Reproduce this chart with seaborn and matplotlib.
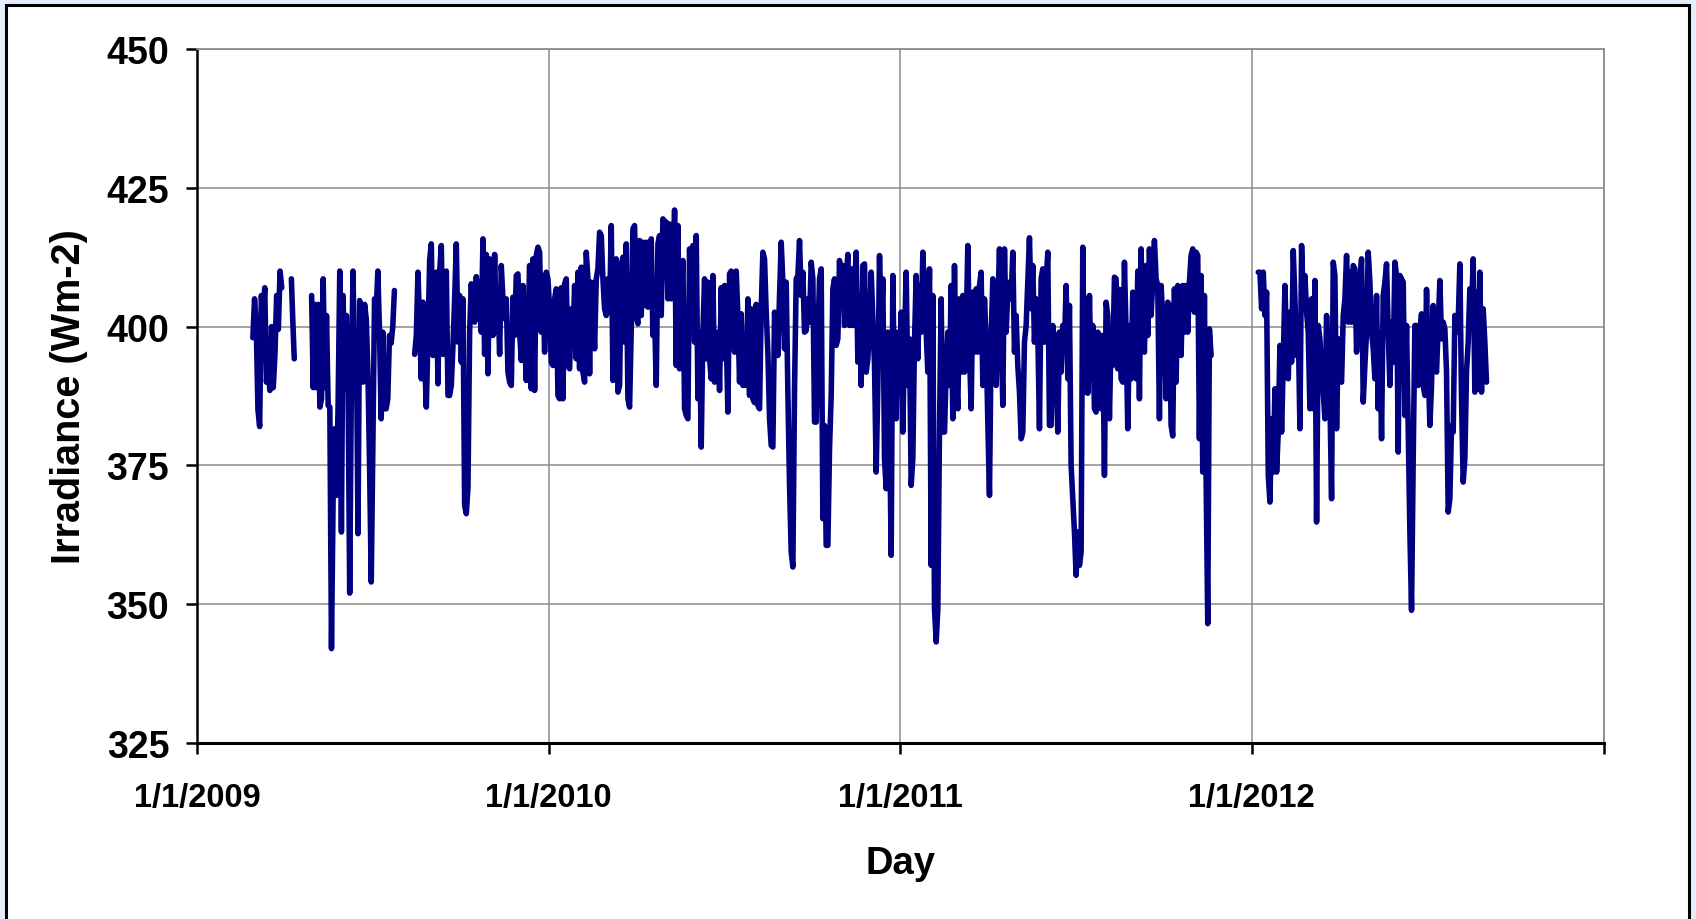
import numpy as np
import pandas as pd
import matplotlib
matplotlib.use("Agg")
import matplotlib.pyplot as plt
from matplotlib.patches import Rectangle
import seaborn as sns

# Daily-mean irradiance (Wm-2), recorded in separate campaigns.
# Each campaign: first day, last day, readings evenly spread between them.
seg_start = ["2009-02-28", "2009-04-09", "2009-04-30", "2009-08-15", "2012-01-08"]
seg_end = ["2009-03-30", "2009-04-12", "2009-07-25", "2011-11-20", "2012-09-01"]

irr_spring_2009 = [398, 405, 400, 385, 382, 405.6, 402, 407, 390, 394, 388.5, 400, 389, 395,
                   405.6, 399.5, 410, 407]

irr_april_2009 = [408.6, 401, 394.2]

irr_summer_2009 = [405.6, 389, 404, 389, 404, 385.5, 387, 408.6, 389, 402, 385.8, 385.5, 342,
                   369.6, 381.6, 369.6, 386, 410, 363, 405.6, 388.8, 402, 390, 352, 389.4, 410,
                   389.4, 399, 362.7, 404.7, 401, 390, 404, 401.4, 391.8, 375, 354, 379, 405,
                   403, 410, 399, 383.4, 399, 385.2, 385.2, 387, 398.4, 397, 400, 406.5]

irr_2009_2011 = [
    # Aug - Sep 2009
    395, 398.4, 409.8, 400, 390.6, 404.4, 394.2, 385.5, 398, 412, 414.9, 394.8, 405, 409.8,
    389.7, 409.8, 414.6, 395, 405, 410, 387.6,
    # Sep 2009 - Apr 2010
    387.6, 389.4, 396.6, 405, 414.9, 397.2, 405.6, 393.6, 405, 367.8, 366.3, 371, 399, 407.7,
    401, 400.8, 409, 401.4, 408, 399, 415.8, 395, 413, 391.5, 412.2, 404.4, 398.4, 413, 399,
    405.6, 395, 411, 405, 401.4, 405, 391.8, 390, 389.4, 405.3, 398.4, 409.2, 409.5, 399,
    393.9, 407.4, 399, 390.3, 399, 411, 388.8, 412.2, 388.5, 412.8, 414.3, 413.4, 399, 409.2,
    395.4, 409.8, 408.6, 403.2, 393.6, 393, 405, 406.8, 387.6, 387, 407, 387, 407.7, 408.6,
    393, 392.4, 403.2, 397.2, 407.4, 394.2, 409.8, 392.4, 410.7, 391.8, 390, 413.4, 408.6,
    391.5, 408, 405, 396, 408.6, 410.4, 417, 416.4, 408.6, 403.2, 402, 408.6, 402.6, 418.2,
    390.3, 405, 412.2, 388.2, 389.4, 411, 412.5, 397.2, 414.9, 387, 385.5, 399.6, 417.6,
    418.2, 401.7, 400.5, 415.5, 402, 415.2, 403.8, 415.2, 403.5, 409.5, 415.8, 398.4, 402,
    389.4, 414.9,
    # Apr - Nov 2010
    416.4, 402, 419.4, 419, 418.8, 405, 418.5, 405, 405.6, 421, 393, 418.2, 392.4, 405, 411.9,
    385.2, 384, 383.4, 414, 400.2, 414.6, 397.2, 416.4, 387, 399, 378.3, 399, 408.6, 394.2,
    408, 394.2, 390.6, 409.2, 390, 394.2, 399, 388.5, 407, 394.2, 407.4, 399, 384.6, 409.5,
    410, 403.2, 395.4, 410, 402, 390, 402.3, 389.4, 398.4, 389.4, 405, 387.6, 403.2, 387,
    386.3, 404, 385.8, 385.2, 403.2, 413.4, 412.2, 402.6, 395.4, 383.4, 378.6, 378.3, 402.6,
    400.2, 394.8, 405.6, 415.2, 408, 396, 408, 388.2, 371.4, 359.4, 356.7, 388.8, 408.6,
    409.2, 415.5, 405.6, 409.8, 399, 399.3, 405, 400.8, 411.6, 408.6, 382.8, 382.8, 397.8,
    408.6, 410.4, 365.4, 382.2, 360.6, 360.6, 378, 387.6, 406.8, 408.6, 396.6, 397.8, 411.9,
    404.4, 411, 400.2, 408.6, 413, 400.2, 410.4, 400.2, 407.4, 413.4, 393.6, 405.6, 389.4,
    411, 411.3, 391.8, 394.2,
    # Dec 2010 - Jun 2011
    400.2, 409.8, 401.4, 393, 373.8, 389.4, 412.8, 399, 408.6, 376.2, 370.8, 399, 383.4,
    358.8, 409.2, 387, 383.4, 399, 388.2, 402.6, 381, 397.8, 409.8, 389.4, 397.8, 371.4,
    376.2, 397.2, 409.2, 394.2, 407.4, 399, 413.4, 405, 399, 391.8, 410.4, 357, 405.6, 349.2,
    343.2, 349.2, 381.6, 405, 381, 381, 391.8, 399, 389.4, 407.4, 383.4, 411, 391.8, 385.2,
    405, 391.8, 405.6, 391.8, 399, 414.6, 395.4, 385.2, 406.2, 395.4, 406.8, 395.4, 407.4,
    409.8, 389.4, 405, 397.8, 382.8, 369.6, 397.8, 408.6, 405, 389.4, 403.2, 414, 399, 385.8,
    414, 399, 406.2, 408, 405, 413.4, 395.4, 402, 393, 388.2, 379.8, 381, 397.2, 400.2, 408,
    416, 403.2, 411, 397.2, 405, 399, 381.6, 408.6, 410.4, 397.2, 408, 413.4, 382.2, 382.2,
    400.2, 397.2, 391.8, 381, 399, 391.8, 400.2, 396.6, 407.4, 390.6, 403.8, 375, 369, 363,
    355.2, 363,
    # Jul - Nov 2011
    357, 359.4, 414.3, 388.2, 405, 388, 405.6, 390.6, 400.2, 385.2, 384.6, 399, 398.4, 385.2,
    398.4, 373.2, 404.4, 402, 383.4, 398.4, 393, 408.9, 408.6, 392.4, 406.7, 390.6, 390,
    411.6, 399, 381.6, 400.2, 390.6, 406.2, 399, 390.6, 410, 387, 414, 399, 395.4, 411, 398.4,
    414, 402, 408, 415.5, 408.6, 407.4, 383.4, 407.4, 401.4, 400.8, 387, 404.4, 403.8, 382.2,
    380.3, 406.8, 390, 407.4, 399, 394.8, 407.4, 399, 407.4, 399, 408, 412.8, 414, 402.6,
    413.4, 412.8, 379.8, 409.2, 373.8, 405.6, 373.2, 346.5, 399.6, 394.8,
]

irr_2012 = [409.8, 409.8, 403.2, 409.8, 402, 406.2, 373.2, 368.4, 383.4, 373.8, 388.8, 373.8,
            381, 396.6, 381, 393.6, 407.4, 396.6, 390.6, 402.6, 393.6, 413.7, 405, 394.8, 400.2,
            381.6, 414.6, 405, 409.2, 402.6, 399, 385.2, 405, 385.2, 408.3, 364.8, 400.2, 397.8,
            391.8, 388.2, 383.4, 402, 393.6, 387, 369, 411.6, 409.2, 381.6, 397.8, 390.6, 390,
            402, 405, 412.8, 400.8, 409.8, 400.8, 411, 410.4, 395.4, 405, 408, 412.2, 386.4, 393,
            399, 413.4, 408, 399, 396, 390.6, 405.6, 385.2, 399, 379.8, 405.6, 408, 411.3, 399,
            389.4, 400.8, 393.6, 411.6, 409.2, 377.4, 409.2, 408.6, 408, 384, 400.2, 381, 363,
            348.9, 376.2, 400.2, 400.2, 389.4, 399, 402.3, 389.4, 387.6, 406.7, 393, 382.2,
            389.4, 403.8, 393.6, 391.8, 400.2, 408.3, 397.8, 400.8, 399.6, 391.8, 366.6, 369,
            382.2, 381, 402, 399, 400.8, 411.3, 387, 372, 376.2, 391.8, 397.2, 406.8, 402, 412.2,
            388.2, 406.2, 388.8, 409.8, 388.2, 403.2, 397.2, 390]

segments = [irr_spring_2009, irr_april_2009, irr_summer_2009, irr_2009_2011, irr_2012]

x_ticks = ["2009-01-01", "2010-01-01", "2011-01-01", "2012-01-01", "2013-01-01"]
x_tick_labels = ["1/1/2009", "1/1/2010", "1/1/2011", "1/1/2012", ""]
y_ticks = [325, 350, 375, 400, 425, 450]

# Long-form table, one campaign per unit so gaps are not bridged
frames = []
for k, (s, e, vals) in enumerate(zip(seg_start, seg_end, segments)):
    t0, t1 = pd.Timestamp(s), pd.Timestamp(e)
    days = t0 + (t1 - t0) * np.linspace(0.0, 1.0, len(vals))
    frames.append(pd.DataFrame({"Day": days, "Irradiance": vals, "campaign": k}))
df = pd.concat(frames, ignore_index=True)

sns.set_style("white")
plt.rcParams["font.family"] = ["Liberation Sans", "DejaVu Sans"]
plt.rcParams["font.weight"] = "bold"
for key in ["text.color", "axes.labelcolor", "xtick.color", "ytick.color"]:
    plt.rcParams[key] = "black"

W, H = 1696, 920
fig = plt.figure(figsize=(W / 100, H / 100), dpi=100)
fig.patch.set_facecolor("#E4EEFA")
# white panel with black border (bottom edge runs off the figure)
fig.patches.append(Rectangle((6 / W, -0.05), (1689 - 6) / W, 1.05 - 6 / H,
                             transform=fig.transFigure, facecolor="white",
                             edgecolor="black", linewidth=2.2, zorder=-5))

ax = fig.add_axes([197 / W, 1 - 744 / H, (1604 - 197) / W, (744 - 50) / H])
ax.set_facecolor("white")

sns.lineplot(data=df, x="Day", y="Irradiance", units="campaign", estimator=None,
             color="#000080", linewidth=4.0, ax=ax,
             solid_joinstyle="round", solid_capstyle="round", zorder=3)

ax.set_xlim(pd.Timestamp(x_ticks[0]), pd.Timestamp(x_ticks[-1]))
ax.set_ylim(y_ticks[0], y_ticks[-1])
ax.set_xticks([pd.Timestamp(t) for t in x_ticks])
ax.set_xticklabels(x_tick_labels)
ax.set_yticks(y_ticks)
ax.set_yticklabels([str(v) for v in y_ticks])

ax.grid(True, color="#8c8c8c", linewidth=1.1, zorder=0)
ax.set_axisbelow(True)
for side in ["top", "right"]:
    ax.spines[side].set_color("#8c8c8c")
    ax.spines[side].set_linewidth(1.3)
ax.spines["left"].set_color("black")
ax.spines["left"].set_linewidth(1.8)
ax.spines["bottom"].set_color("black")
ax.spines["bottom"].set_linewidth(2.2)

ax.tick_params(axis="both", direction="out", length=8, width=1.8, color="black",
               bottom=True, left=True)
ax.tick_params(axis="x", pad=20, labelsize=23.5)
ax.tick_params(axis="y", pad=12, labelsize=27)
for lab in ax.get_xticklabels() + ax.get_yticklabels():
    lab.set_fontweight("bold")

ax.set_xlabel("Day", fontsize=27.5, fontweight="bold", labelpad=23)
ax.set_ylabel("Irradiance (Wm-2)", fontsize=28.5, fontweight="bold", labelpad=13)

fig.savefig("out.png", dpi=100, facecolor=fig.get_facecolor())
